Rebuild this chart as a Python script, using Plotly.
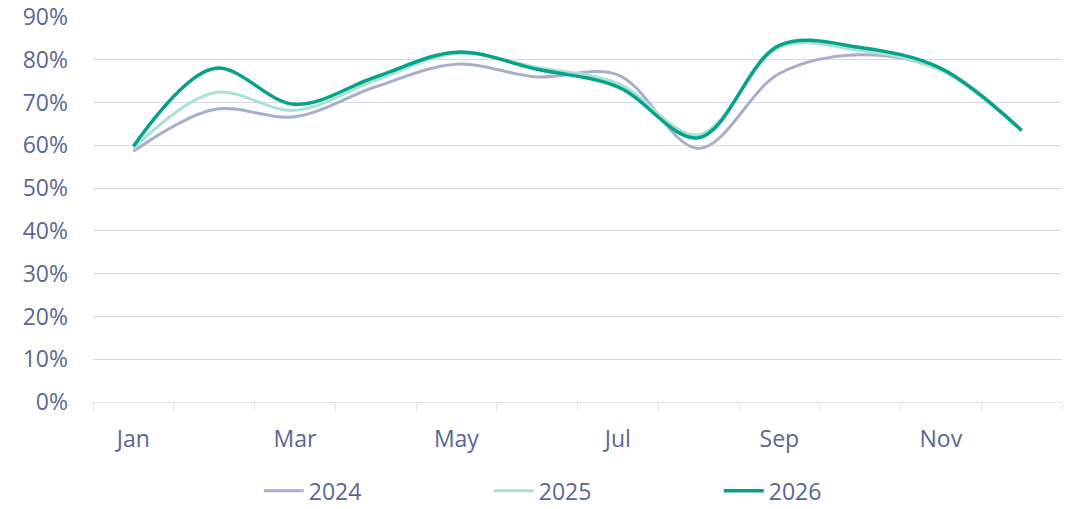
import plotly.graph_objects as go

months = ["Jan", "Feb", "Mar", "Apr", "May", "Jun", "Jul", "Aug", "Sep", "Oct", "Nov", "Dec"]
series_names = ["2024", "2025", "2026"]
v2024 = [58.6, 68.4, 66.7, 73.7, 79.0, 76.0, 76.5, 59.3, 76.8, 81.2, 77.6, 63.5]
v2025 = [59.3, 72.3, 68.2, 75.2, 81.5, 78.2, 74.5, 62.5, 82.9, 82.2, 77.6, 63.5]
v2026 = [59.8, 78.0, 69.6, 76.0, 81.8, 77.8, 73.7, 61.8, 83.4, 82.9, 78.0, 63.5]
colors = ["#a9aecb", "#a6e3d6", "#06a389"]
widths = [3, 3, 3.5]
y_ticks = [0, 10, 20, 30, 40, 50, 60, 70, 80, 90]

text_color = "#5a6891"
grid_color = "#d9d9e3"

fig = go.Figure()
idx = list(range(len(months)))
for name, vals, c, w in zip(series_names, [v2024, v2025, v2026], colors, widths):
    fig.add_trace(go.Scatter(
        x=idx, y=vals, name=name, mode="lines",
        line=dict(color=c, width=w, shape="spline", smoothing=1.0),
    ))

fig.update_layout(
    width=1076, height=509,
    margin=dict(l=93, r=14, t=17, b=107),
    paper_bgcolor="white", plot_bgcolor="white",
    font=dict(family="Open Sans", size=23, color=text_color),
    showlegend=True,
    legend=dict(
        orientation="h", xref="container", yref="container",
        x=0.2405, xanchor="left", y=0.036, yanchor="middle",
        entrywidth=175, entrywidthmode="pixels",
        font=dict(size=23, color=text_color),
        itemwidth=40,
    ),
)
fig.update_xaxes(
    range=[-0.5, 11.5], automargin=False,
    tickvals=idx[::2], ticktext=months[::2],
    ticks="", showgrid=False, zeroline=False,
    showline=True, linecolor="#e3e4ec", linewidth=1,
    minor=dict(tickvals=[i - 0.5 for i in range(13)], ticks="outside", ticklen=8,
               tickcolor="#e3e4ec", showgrid=False),
    ticklabelstandoff=16,
    ticklabeloverflow="allow",
    tickfont=dict(size=23, color=text_color),
)
fig.update_yaxes(
    range=[0, 90.02], automargin=False,
    tickvals=y_ticks, ticktext=[f"{v}%" for v in y_ticks],
    showgrid=True, gridcolor=grid_color, gridwidth=1,
    zeroline=False, showline=False, ticks="",
    ticklabelstandoff=24,
    ticklabeloverflow="allow",
    tickfont=dict(size=23, color=text_color),
)

fig.write_html("out.html", config={"displayModeBar": False},
               post_script="document.body.style.margin='0px';")
